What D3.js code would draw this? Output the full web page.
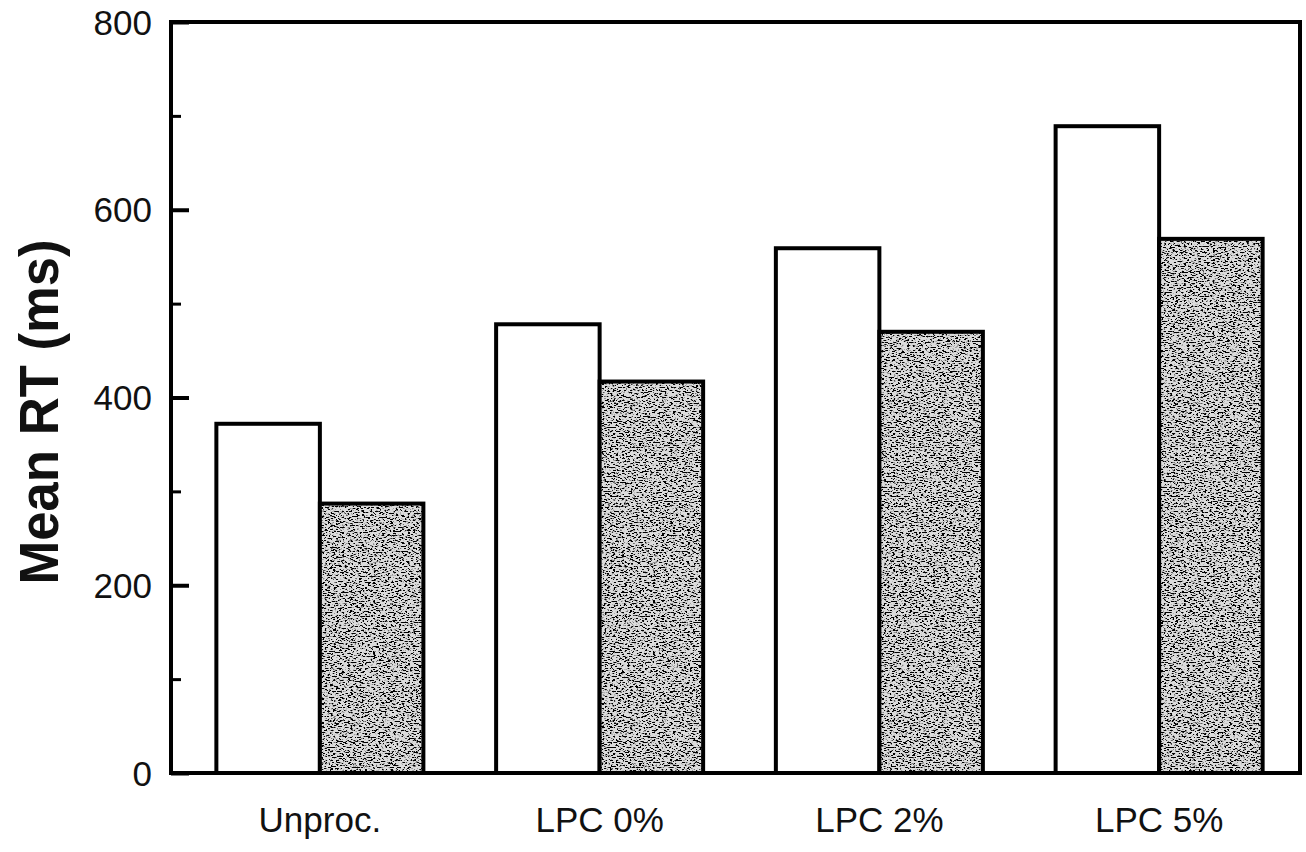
<!DOCTYPE html>
<html>
<head>
<meta charset="utf-8">
<script src="https://cdn.jsdelivr.net/npm/d3@7"></script>
<style>
  body { margin: 0; background: #fff; }
  text { font-family: "Liberation Sans", Arial, sans-serif; fill: #111; }
</style>
</head>
<body>
<div id="chart"></div>
<script>
// data
const categories = ['Unproc.', 'LPC 0%', 'LPC 2%', 'LPC 5%'];
const plainValues = [372, 478, 559, 689];
const shadedValues = [287, 417, 470, 569];
const yTicks = [0, 200, 400, 600, 800];
const yMinorTicks = [100, 300, 500, 700];

const width = 1306, height = 852;
const plotLeft = 171, plotRight = 1300, plotTop = 22, plotBottom = 773;

const svg = d3.select('#chart')
  .append('svg')
  .attr('width', width)
  .attr('height', height);

// speckled gray texture for the second bar of each pair
const defs = svg.append('defs');
const filter = defs.append('filter')
  .attr('id', 'stipple')
  .attr('x', 0).attr('y', 0)
  .attr('width', 1).attr('height', 1);
filter.append('feTurbulence')
  .attr('type', 'fractalNoise')
  .attr('baseFrequency', '0.35 0.8')
  .attr('numOctaves', 3)
  .attr('seed', 7)
  .attr('result', 'noise');
filter.append('feColorMatrix')
  .attr('in', 'noise')
  .attr('type', 'matrix')
  .attr('values', '0 0 0 0 0  0 0 0 0 0  0 0 0 0 0  -10 0 0 0 4.9')
  .attr('result', 'dots');
filter.append('feComposite').attr('in', 'dots').attr('in2', 'SourceGraphic').attr('operator', 'in').attr('result', 'clip');
filter.append('feMerge').call(m => {
  m.append('feMergeNode').attr('in', 'SourceGraphic');
  m.append('feMergeNode').attr('in', 'clip');
});

const x = d3.scaleBand()
  .domain(categories)
  .range([180, 1299])
  .paddingInner(0.26)
  .paddingOuter(0.13);

const xSub = d3.scaleBand()
  .domain(['plain', 'shaded'])
  .range([0, x.bandwidth()]);

const y = d3.scaleLinear()
  .domain([0, 800])
  .range([plotBottom, plotTop]);

const g = svg.append('g');

// bars
const groups = g.selectAll('g.cat')
  .data(categories)
  .join('g')
  .attr('class', 'cat')
  .attr('transform', d => `translate(${x(d)},0)`);

groups.append('rect')
  .attr('x', xSub('plain'))
  .attr('y', (d, i) => y(plainValues[i]))
  .attr('width', xSub.bandwidth())
  .attr('height', (d, i) => y(0) - y(plainValues[i]))
  .attr('fill', '#fff')
  .attr('stroke', '#000')
  .attr('stroke-width', 4);

groups.append('rect')
  .attr('x', xSub('shaded'))
  .attr('y', (d, i) => y(shadedValues[i]))
  .attr('width', xSub.bandwidth())
  .attr('height', (d, i) => y(0) - y(shadedValues[i]))
  .attr('fill', '#dcdcdc')
  .attr('filter', 'url(#stipple)');

groups.append('rect')
  .attr('x', xSub('shaded'))
  .attr('y', (d, i) => y(shadedValues[i]))
  .attr('width', xSub.bandwidth())
  .attr('height', (d, i) => y(0) - y(shadedValues[i]))
  .attr('fill', 'none')
  .attr('stroke', '#000')
  .attr('stroke-width', 4);

// frame
g.append('rect')
  .attr('x', plotLeft)
  .attr('y', y(800))
  .attr('width', plotRight - plotLeft)
  .attr('height', y(0) - y(800))
  .attr('fill', 'none')
  .attr('stroke', '#000')
  .attr('stroke-width', 4);

// y axis, ticks pointing inward
const yAxis = g.append('g')
  .attr('transform', `translate(${plotLeft},0)`)
  .call(d3.axisRight(y).tickValues(yTicks).tickSize(18).tickFormat(''));
yAxis.select('.domain').remove();
yAxis.selectAll('line').attr('stroke-width', 4);

const yMinor = g.append('g')
  .attr('transform', `translate(${plotLeft},0)`)
  .call(d3.axisRight(y).tickValues(yMinorTicks).tickSize(10).tickFormat(''));
yMinor.select('.domain').remove();
yMinor.selectAll('line').attr('stroke-width', 3);

g.selectAll('text.ytick')
  .data(yTicks)
  .join('text')
  .attr('class', 'ytick')
  .attr('x', 152)
  .attr('y', d => y(d))
  .attr('dy', '0.36em')
  .attr('text-anchor', 'end')
  .attr('font-size', 35)
  .text(d => d);

// x labels
g.selectAll('text.xlab')
  .data(categories)
  .join('text')
  .attr('class', 'xlab')
  .attr('x', d => x(d) + x.bandwidth() / 2)
  .attr('y', 832)
  .attr('text-anchor', 'middle')
  .attr('font-size', 35)
  .text(d => d);

// y title
svg.append('text')
  .attr('transform', `translate(58, 412) rotate(-90)`)
  .attr('text-anchor', 'middle')
  .attr('font-size', 55)
  .attr('font-weight', 'bold')
  .attr('textLength', 345)
  .attr('lengthAdjust', 'spacingAndGlyphs')
  .text('Mean RT (ms)');
</script>
</body>
</html>
